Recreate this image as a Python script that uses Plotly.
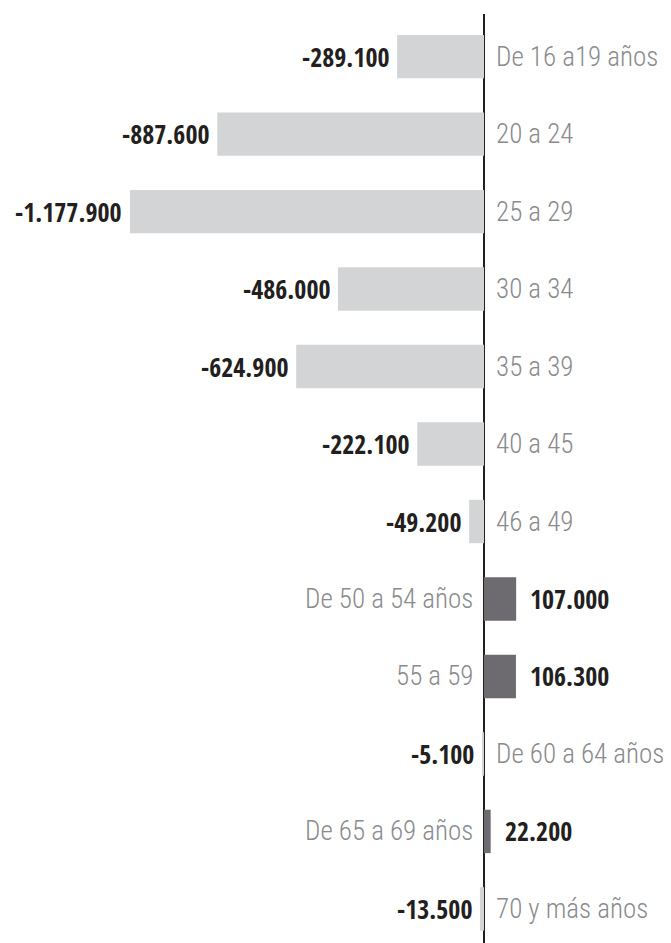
import plotly.graph_objects as go

categories = ["De 16 a19 años", "20 a 24", "25 a 29", "30 a 34", "35 a 39", "40 a 45",
              "46 a 49", "De 50 a 54 años", "55 a 59", "De 60 a 64 años",
              "De 65 a 69 años", "70 y más años"]
values = [-289100, -887600, -1177900, -486000, -624900, -222100,
          -49200, 107000, 106300, -5100, 22200, -13500]
value_labels = ["-289.100", "-887.600", "-1.177.900", "-486.000", "-624.900", "-222.100",
                "-49.200", "107.000", "106.300", "-5.100", "22.200", "-13.500"]

NEG_COLOR = "#d2d4d6"
POS_COLOR = "#6d6b70"
VAL_FONT = "Open Sans Condensed, Roboto Condensed, DejaVu Sans Condensed, sans-serif"
CAT_FONT = "Roboto Condensed, Open Sans Condensed, DejaVu Sans Condensed, sans-serif"

fig = go.Figure()
fig.add_trace(go.Bar(
    x=values, y=list(range(len(categories))), orientation="h",
    marker=dict(color=[NEG_COLOR if v < 0 else POS_COLOR for v in values], line=dict(width=0)),
    width=0.56, hoverinfo="skip",
))

annotations = []
for i, (cat, v, lab) in enumerate(zip(categories, values, value_labels)):
    neg = v < 0
    annotations.append(dict(
        x=v, y=i, xref="x", yref="y", text=lab, showarrow=False,
        xanchor="right" if neg else "left", xshift=-6 if neg else 12,
        font=dict(family=VAL_FONT, size=26, color="#231f20", weight="bold"),
    ))
    annotations.append(dict(
        x=0, y=i, xref="x", yref="y", text=cat, showarrow=False,
        xanchor="left" if neg else "right", xshift=10 if neg else -9,
        font=dict(family=CAT_FONT, size=27, color="#8a8b8e", weight=300),
    ))

fig.update_layout(
    width=663, height=935,
    margin=dict(l=0, r=0, t=6, b=0, pad=0),
    paper_bgcolor="white", plot_bgcolor="white",
    showlegend=False,
    xaxis=dict(range=[-1583870, 622240], showgrid=False, showticklabels=False,
               zeroline=True, zerolinecolor="#231f20", zerolinewidth=2, fixedrange=True),
    yaxis=dict(range=[11.44, -0.55], showgrid=False, showticklabels=False,
               zeroline=False, fixedrange=True),
    annotations=annotations,
)

fig.write_html("out.html")
